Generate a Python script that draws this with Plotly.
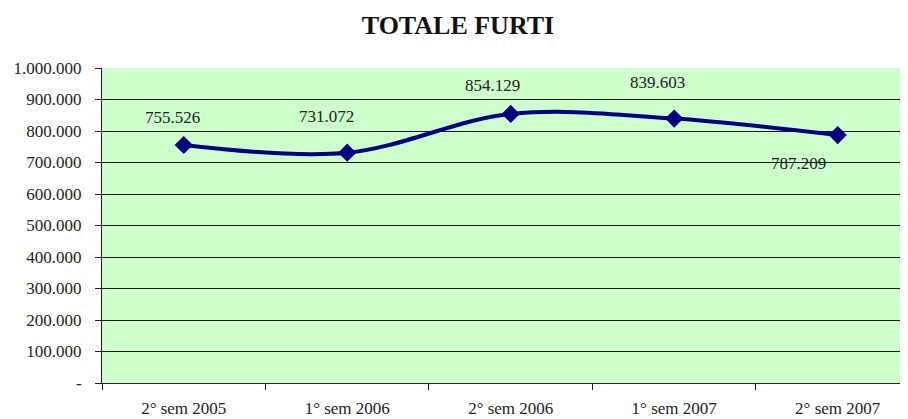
import plotly.graph_objects as go

# data
semestri = ['2° sem 2005', '1° sem 2006', '2° sem 2006', '1° sem 2007', '2° sem 2007']
furti = [755526, 731072, 854129, 839603, 787209]
etichette = ['755.526', '731.072', '854.129', '839.603', '787.209']
y_ticks = [0, 100000, 200000, 300000, 400000, 500000, 600000, 700000, 800000, 900000, 1000000]
y_labels = ['-', '100.000', '200.000', '300.000', '400.000', '500.000',
            '600.000', '700.000', '800.000', '900.000', '1.000.000']

# label offsets (px) relative to each point
label_shift = [(-11, 28), (-21, 36), (-18, 28), (-17, 36), (-39, -28)]

fig = go.Figure()

fig.add_trace(go.Scatter(
    x=semestri,
    y=furti,
    mode='lines+markers',
    line=dict(color='#000080', width=4, shape='spline', smoothing=1),
    marker=dict(symbol='diamond', size=14, color='#000080'),
    hoverinfo='skip',
    showlegend=False
))

for s, v, t, (dx, dy) in zip(semestri, furti, etichette, label_shift):
    fig.add_annotation(x=s, y=v, text=t, showarrow=False,
                       xshift=dx, yshift=dy,
                       font=dict(family='Liberation Serif', size=17, color='#222222'))

# page body has an 8px margin, so the figure is sized to fit the window
fig.update_layout(
    width=900, height=411,
    margin=dict(l=94, r=0, t=60, b=36),
    paper_bgcolor='white',
    plot_bgcolor='#CCFFCC',
    title=dict(text='<b>TOTALE FURTI</b>', x=0.5, xanchor='center',
               y=1 - 17 / 411, yanchor='middle',
               font=dict(family='Liberation Serif', size=26, color='#111111')),
    font=dict(family='Liberation Serif', size=17, color='#222222'),
    xaxis=dict(
        type='category',
        range=[-0.5, 4.43],
        showgrid=False,
        showline=True, linecolor='#222222', linewidth=1,
        ticks='outside', tickson='boundaries', ticklen=6, tickcolor='#222222',
        ticklabelstandoff=10,
        zeroline=False
    ),
    yaxis=dict(
        range=[0, 1000000],
        tickvals=y_ticks,
        ticktext=y_labels,
        showgrid=True, gridcolor='#1a1a1a', gridwidth=1,
        showline=True, linecolor='#222222', linewidth=1,
        ticks='outside', ticklen=6, tickcolor='#222222',
        ticklabelstandoff=10,
        zeroline=False
    )
)

fig.write_html("out.html")
